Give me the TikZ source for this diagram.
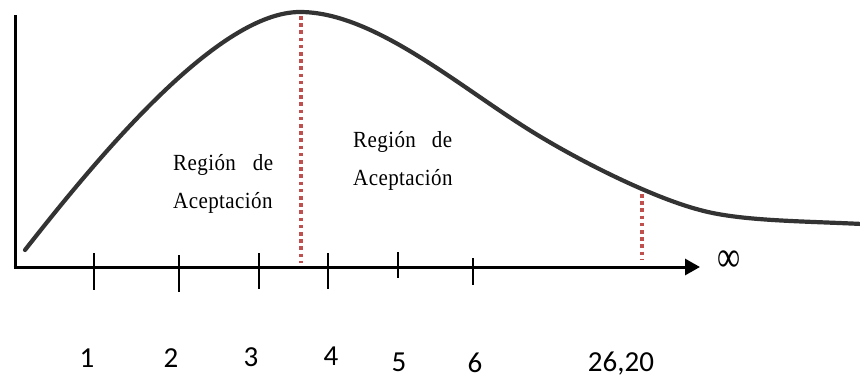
\documentclass[tikz,border=0pt]{standalone}
\usepackage{fontspec}
\setmainfont{Liberation Serif}
\newfontfamily\numfont{Carlito}
\newfontfamily\regfont[LetterSpace=2]{Liberation Serif}
\usetikzlibrary{arrows.meta}
\definecolor{curvegray}{HTML}{333333}
\definecolor{cutred}{HTML}{C0504D}
\tikzset{
  axisline/.style={line width=3pt, black},
  tickline/.style={line width=2pt, black},
  curveline/.style={line width=4.2pt, curvegray, line cap=round},
  cutline/.style={line width=3.5pt, cutred, dash pattern=on 3.6pt off 3.6pt},
  numlabel/.style={anchor=base, inner sep=0pt, font=\numfont\fontsize{29}{32}\selectfont},
  reglabel/.style={anchor=base west, inner sep=0pt, font=\regfont\fontsize{21}{24}\selectfont},
}
\begin{document}
\begin{tikzpicture}[x=1pt,y=-1pt]
\useasboundingbox (0,0) rectangle (860,378);
% axes
\coordinate (O) at (15,267);
\coordinate (Ytop) at (15,15);
\coordinate (Xend) at (700,267);
\draw[axisline] (Ytop) -- (O);
\draw[axisline, -{Triangle[length=15pt,width=16pt]}] ([xshift=-1.5pt]O) -- (Xend);
\node[inner sep=0pt, font=\fontsize{36}{40}\selectfont] (inf) at (729,261) {\scalebox{0.9}[1.2]{∞}};
% ticks
\foreach \n/\x/\a/\b in {t1/94/253/290, t2/179/255/292, t3/259/253/289, t4/328/253/289, t5/398/252/278, t6/473/258/285}{
  \coordinate (\n a) at (\x,\a);
  \coordinate (\n b) at (\x,\b);
  \draw[tickline] (\n a) -- (\n b);
}
% curve
\coordinate (k0) at (25,250);
\coordinate (k1) at (300,12);
\coordinate (k2) at (520,124);
\coordinate (k3) at (700,210);
\coordinate (k4) at (862,224);
\draw[curveline] (k0) .. controls (105,148) and (220,12) .. (k1)
  .. controls (370,12) and (450,79) .. (k2)
  .. controls (570,156.5) and (650,197) .. (k3)
  .. controls (740,221) and (800,221) .. (k4);
% cut lines
\coordinate (c1a) at (301,16);
\coordinate (c1b) at (301,263);
\coordinate (c2a) at (642,194);
\coordinate (c2b) at (642,260);
\draw[cutline] (c1a) -- (c1b);
\draw[cutline] (c2a) -- (c2b);
% region labels
\node[reglabel] (r1a) at (173,170) {\scalebox{1}[1.1]{\makebox[100pt][s]{Región de}}};
\node[reglabel] (r1b) at (173,208) {\scalebox{1}[1.1]{Aceptación}};
\node[reglabel] (r2a) at (353,147) {\scalebox{1}[1.1]{\makebox[99pt][s]{Región de}}};
\node[reglabel] (r2b) at (353,185) {\scalebox{1}[1.1]{Aceptación}};
% numbers
\node[numlabel] (n1) at (87,367) {1};
\node[numlabel] (n2) at (171,367) {2};
\node[numlabel] (n3) at (251,366) {3};
\node[numlabel] (n4) at (331,365) {4};
\node[numlabel] (n5) at (399,371) {5};
\node[numlabel] (n6) at (475,372) {6};
\node[numlabel] (n7) at (621,371) {26,20};
\end{tikzpicture}
\end{document}
